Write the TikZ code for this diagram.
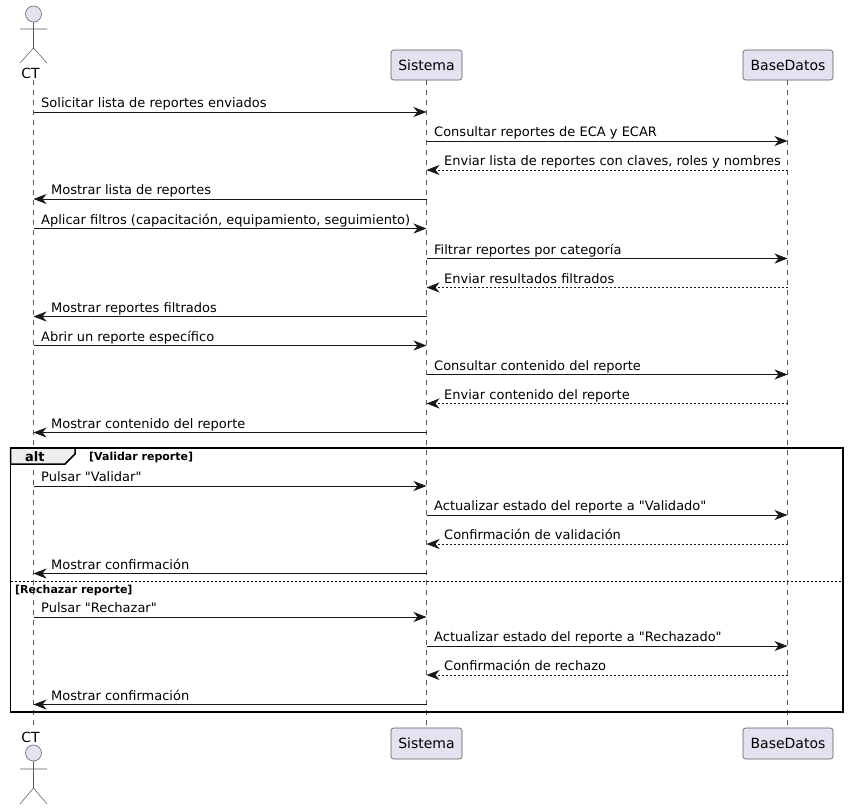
\documentclass[tikz,border=0pt]{standalone}
\usepackage{fontspec}
\setmainfont[Ligatures=TeXOff]{DejaVu Sans}
\usetikzlibrary{arrows.meta}
\definecolor{partfill}{HTML}{E2E2F0}
\definecolor{partline}{HTML}{5A5A5A}
\definecolor{msgline}{HTML}{181818}
\definecolor{tabfill}{HTML}{EEEEEE}
\tikzset{
  x=1pt,y=-1pt,
  partbox/.style={draw=partline,fill=partfill,rounded corners=2.5pt,line width=0.6pt,minimum height=30pt,inner sep=0pt,font=\fontsize{14}{16}\selectfont},
  lifeline/.style={draw=partline,line width=0.55pt,dash pattern=on 5pt off 5pt},
  actorbody/.style={draw=partline,line width=0.55pt},
  actorhead/.style={circle,draw=partline,fill=partfill,line width=0.55pt,minimum size=16pt,inner sep=0pt},
  actorlabel/.style={inner sep=0pt,anchor=base,font=\fontsize{14}{16}\selectfont},
  call/.style={draw=msgline,line width=0.75pt,-{Stealth[length=13pt,width=10pt,inset=4pt,color=msgline]}},
  reply/.style={call,dash pattern=on 2pt off 2pt},
  msglabel/.style={inner sep=0pt,anchor=base west,text=black,font=\fontsize{13}{15}\selectfont},
  framebox/.style={draw=black,line width=1.5pt},
  framelabel/.style={inner sep=0pt,anchor=base west,font=\fontsize{11}{13}\selectfont\bfseries},
}
\newcommand{\fwd}[6]{% kind, name, fromx, tox, y, label
  \coordinate (#2s) at (#3,#5);
  \coordinate (#2e) at (#4,#5);
  \draw[#1] (#2s) -- (#2e);
  \node[msglabel] (#2t) at (#3+7.5,#5-4.5) {#6};
}
\newcommand{\bwd}[6]{%
  \coordinate (#2s) at (#3,#5);
  \coordinate (#2e) at (#4,#5);
  \draw[#1] (#2s) -- (#2e);
  \node[msglabel] (#2t) at (#4+17.5,#5-4.5) {#6};
}
\begin{document}
\begin{tikzpicture}
\useasboundingbox (0,0) rectangle (848,809);
\def\xa{33.5}\def\xb{426.5}\def\xc{787.5}
% lifelines
\node[partbox,minimum width=71pt] (sysT) at (426.5,65) {Sistema};
\node[partbox,minimum width=90pt] (dbT) at (788,65) {BaseDatos};
\node[partbox,minimum width=71pt,minimum height=31pt] (sysB) at (426.5,743.5) {Sistema};
\node[partbox,minimum width=90pt,minimum height=31pt] (dbB) at (788,743.5) {BaseDatos};
\coordinate (ctT) at (\xa,80);
\coordinate (ctB) at (\xa,728);
\coordinate (sysTl) at (\xb,80);
\coordinate (sysBl) at (\xb,728);
\coordinate (dbTl) at (\xc,80);
\coordinate (dbBl) at (\xc,728);
\draw[lifeline] (ctT) -- (ctB);
\draw[lifeline] (sysTl) -- (sysBl);
\draw[lifeline] (dbTl) -- (dbBl);
% top actor
\node[actorhead] (headT) at (\xa,14) {};
\draw[actorbody] (headT.south) -- (\xa,48) (20,29) -- (47,29) (20,63) -- (\xa,48) -- (47,63);
\node[actorlabel] (ctLabelT) at (30.5,78) {CT};
% bottom actor
\node[actorlabel] (ctLabelB) at (30.5,742) {CT};
\node[actorhead] (headB) at (\xa,753) {};
\draw[actorbody] (headB.south) -- (\xa,788) (20,769) -- (47,769) (20,804) -- (\xa,788) -- (47,804);
% messages
\fwd{call}{m1}{\xa}{\xb}{112}{Solicitar lista de reportes enviados}
\fwd{call}{m2}{\xb}{\xc}{141}{Consultar reportes de ECA y ECAR}
\bwd{reply}{m3}{\xc}{\xb}{170}{Enviar lista de reportes con claves, roles y nombres}
\bwd{call}{m4}{\xb}{\xa}{199}{Mostrar lista de reportes}
\fwd{call}{m5}{\xa}{\xb}{228.5}{Aplicar filtros (capacitación, equipamiento, seguimiento)}
\fwd{call}{m6}{\xb}{\xc}{258.5}{Filtrar reportes por categoría}
\bwd{reply}{m7}{\xc}{\xb}{287.5}{Enviar resultados filtrados}
\bwd{call}{m8}{\xb}{\xa}{316.5}{Mostrar reportes filtrados}
\fwd{call}{m9}{\xa}{\xb}{345.5}{Abrir un reporte específico}
\fwd{call}{m10}{\xb}{\xc}{374.5}{Consultar contenido del reporte}
\bwd{reply}{m11}{\xc}{\xb}{403.5}{Enviar contenido del reporte}
\bwd{call}{m12}{\xb}{\xa}{432.5}{Mostrar contenido del reporte}
\fwd{call}{m13}{\xa}{\xb}{486}{Pulsar "Validar"}
\fwd{call}{m14}{\xb}{\xc}{515}{Actualizar estado del reporte a "Validado"}
\bwd{reply}{m15}{\xc}{\xb}{544}{Confirmación de validación}
\bwd{call}{m16}{\xb}{\xa}{573.5}{Mostrar confirmación}
\fwd{call}{m17}{\xa}{\xb}{617}{Pulsar "Rechazar"}
\fwd{call}{m18}{\xb}{\xc}{646}{Actualizar estado del reporte a "Rechazado"}
\bwd{reply}{m19}{\xc}{\xb}{675}{Confirmación de rechazo}
\bwd{call}{m20}{\xb}{\xa}{704.5}{Mostrar confirmación}
% alt frame
\draw[framebox,fill=tabfill] (10.5,448) -- (75,448) -- (75,454) -- (65,464) -- (10.5,464) -- cycle;
\draw[framebox] (10.5,448) rectangle (843,712);
\draw[black,line width=0.75pt,dash pattern=on 2pt off 2pt] (10.5,581) -- (843,581);
\node[inner sep=0pt,anchor=base west,font=\fontsize{13}{15}\selectfont\bfseries] (altT) at (25,461) {alt};
\node[framelabel] (g1) at (89,460) {[Validar reporte]};
\node[framelabel] (g2) at (15,593) {[Rechazar reporte]};
\end{tikzpicture}
\end{document}
